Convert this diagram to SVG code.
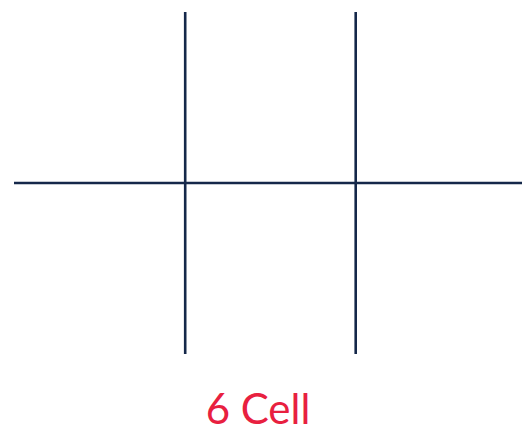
<svg xmlns="http://www.w3.org/2000/svg" width="522" height="432" viewBox="0 0 522 432">
<style>
.ln{stroke:#15284a;stroke-width:2.6;fill:none}
.lbl{font-family:Lato,"Noto Sans",sans-serif;font-size:42px;fill:#e8203f;text-anchor:middle}
</style>
<rect width="522" height="432" fill="#ffffff"/>
<g id="connectors">
<line class="ln" x1="185.2" y1="12" x2="185.2" y2="354"/>
<line class="ln" x1="355.7" y1="12" x2="355.7" y2="354"/>
<line class="ln" x1="14" y1="183" x2="522" y2="183"/>
</g>
<g id="label">
<text class="lbl" x="258" y="424">6 Cell</text>
</g>
</svg>
